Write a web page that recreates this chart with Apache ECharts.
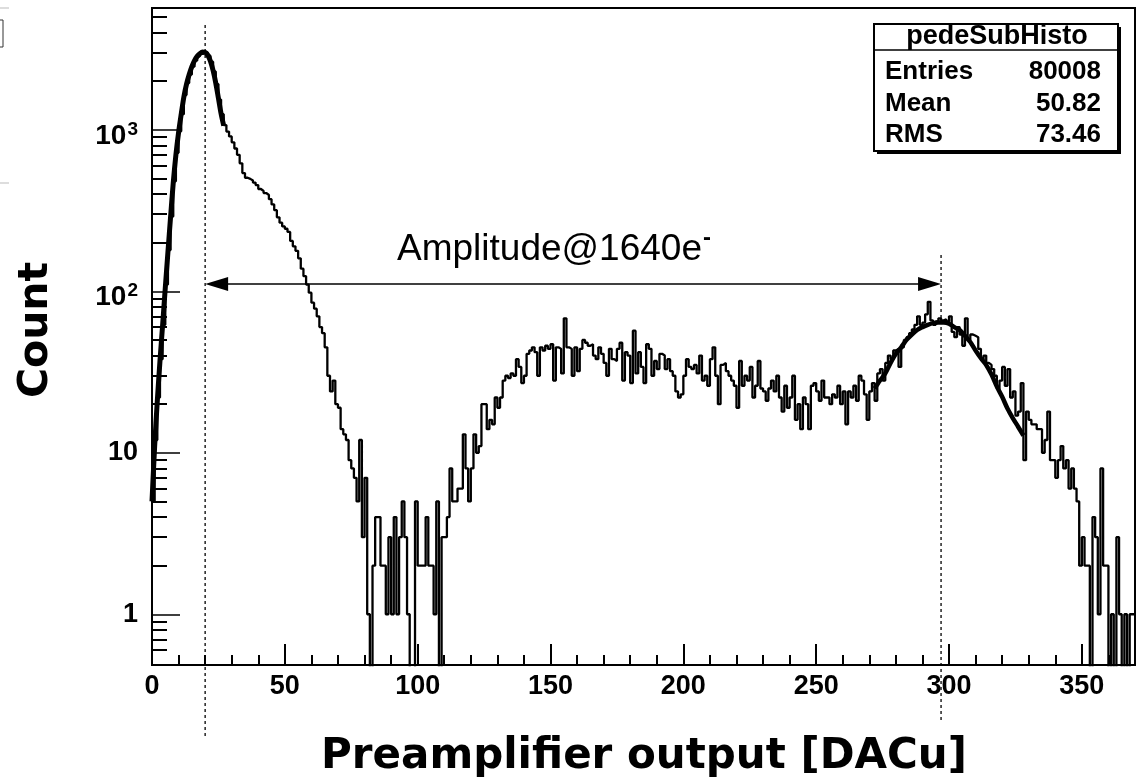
<!DOCTYPE html>
<html>
<head>
<meta charset="utf-8">
<script src="https://cdn.jsdelivr.net/npm/echarts@6/dist/echarts.min.js"></script>
<style>
html,body{margin:0;padding:0;background:#fff;}
#chart{width:1138px;height:782px;}
</style>
</head>
<body>
<div id="chart"></div>
<script>
// ---------------- data ----------------
// histogram "pedeSubHisto": one bin per DACu, bins [i, i+1), i = 0..369
const binCounts = [
  5, 12, 22, 38, 62, 110, 180, 290, 480, 720,
  980, 1250, 1640, 1950, 2200, 2460, 2680, 2850, 2950, 3030,
  3000, 2880, 2640, 2300, 1920, 1540, 1250, 1070, 975, 910,
  836, 766, 700, 620, 540, 505, 497, 485, 471, 455,
  430, 418, 406, 395, 372, 345, 318, 287, 266, 252,
  244, 233, 205, 190, 178, 160, 138, 124, 110, 98,
  85, 78, 70, 60, 55, 45, 30, 24, 28, 20,
  19, 14, 13, 12, 9, 8, 7, 5, 12, 3,
  7, 1, 0, 2, 4, 4, 2, 2, 1, 3,
  1, 4, 1, 3, 5, 3, 1, 0, 0, 5,
  2, 2, 2, 4, 2, 2, 1, 5, 0, 3,
  3, 4, 8, 5, 5, 6, 6, 13, 8, 5,
  8, 13, 10, 11, 20, 20, 14, 16, 15, 22,
  19, 22, 28, 30, 29, 31, 30, 38, 34, 27,
  30, 41, 43, 45, 42, 30, 45, 43, 46, 44,
  47, 28, 45, 44, 31, 68, 45, 44, 30, 45,
  32, 44, 50, 48, 46, 47, 40, 38, 45, 41,
  36, 30, 44, 38, 37, 44, 48, 28, 42, 40,
  27, 57, 31, 42, 34, 27, 47, 44, 30, 37,
  33, 41, 40, 33, 38, 32, 30, 24, 22, 23,
  30, 38, 34, 33, 35, 31, 40, 28, 30, 26,
  38, 45, 30, 20, 35, 36, 32, 30, 28, 26,
  19, 37, 26, 30, 28, 34, 22, 26, 37, 25,
  24, 21, 25, 28, 24, 30, 22, 18, 26, 19,
  22, 30, 16, 20, 14, 22, 20, 14, 26, 27,
  24, 21, 28, 22, 22, 20, 23, 22, 26, 20,
  24, 15, 24, 22, 26, 21, 30, 28, 23, 16,
  24, 27, 21, 31, 33, 28, 36, 40, 38, 43,
  44, 34, 45, 50, 52, 55, 58, 62, 70, 62,
  64, 72, 86, 66, 62, 65, 68, 66, 67, 65,
  70, 56, 52, 60, 54, 46, 68, 50, 54, 53,
  52, 44, 38, 40, 36, 35, 33, 30, 25, 28,
  34, 26, 33, 22, 24, 17, 18, 27, 9, 18,
  16, 15, 15, 14, 14, 10, 12, 18, 9, 9,
  7, 9, 11, 8, 9, 6, 8, 6, 5, 2,
  3, 2, 2, 0, 4, 3, 1, 8, 2, 2,
  0, 1, 0, 3, 1, 0, 1, 0, 1, 1
];
// fitted curves drawn on top (x in DACu, count)
const pedestalFitX = [0,1,2,3,4,5,6,7,8,9,10,11,12,13,14,15,16,17,18,19,20,21,22,23,24,25,26,27];
const pedestalFitY = [5,11,21,37,62,105,175,290,470,700,960,1250,1600,1920,2200,2460,2680,2850,2960,3030,3020,2900,2660,2330,1950,1570,1260,1060];
const signalFitX = [272,274,276,278,280,282,284,286,288,290,292,294,296,298,300,302,304,306,308,310,312,314,316,318,320,322,324,326,328];
const signalFitY = [25,28,31,36,41,45,50,54,57.6,60,62,63.5,64,64,63,60,57.5,53,48.5,43,38.5,35,30.5,25.7,22.2,18.8,16.4,14.5,12.8];

const xMajorTicks = [0,50,100,150,200,250,300,350];
const xMinorTicks = [10,20,30,40,60,70,80,90,110,120,130,140,160,170,180,190,210,220,230,240,260,270,280,290,310,320,330,340,360];
const yDecadeTicks = [1,10,100,1000];
const yDecadeLabels = ['1','10','{b|10}{s|2}','{b|10}{s|3}'];
const yMinorTicks = [0.6,0.7,0.8,0.9,2,3,4,5,6,7,8,9,20,30,40,50,60,70,80,90,200,300,400,500,600,700,800,900,2000,3000,4000,5000];

const statsTitle = 'pedeSubHisto';
const statsNames = ['Entries','Mean','RMS'];
const statsValues = ['80008','50.82','73.46'];

const markerLeftX = 20;     // pedestal position (DACu)
const markerRightX = 297;   // signal peak position (DACu)
const arrowCount = 111;     // height of the arrow (counts)
const annotation = 'Amplitude@1640e';

const xRange = [0, 370];
const yRange = [0.485, 5680];

// ---------------- build ----------------
const lg = v => Math.log10(v);
const FLOOR = -2; // empty bins go below the frame (log scale)
const histData = binCounts.map((c, i) => [i, c > 0 ? lg(c) : FLOOR]);
histData.push([binCounts.length, binCounts[binCounts.length-1] > 0 ? lg(binCounts[binCounts.length-1]) : FLOOR]);
const pedFit = pedestalFitX.map((x, i) => [x, lg(pedestalFitY[i])]);
const sigFit = signalFitX.map((x, i) => [x, lg(signalFitY[i])]);

const FONT = '"Liberation Sans", Arial, Helvetica, sans-serif';
const TITLEFONT = '"DejaVu Sans", Verdana, sans-serif';
const yMin = lg(yRange[0]), yMax = lg(yRange[1]);

const chart = echarts.init(document.getElementById('chart'), null, {renderer: 'canvas'});

const option = {
  animation: false,
  backgroundColor: '#ffffff',
  grid: {left: 152, top: 8, width: 983, height: 657, show: true, borderColor: '#000', borderWidth: 2, backgroundColor: 'transparent'},
  xAxis: [
    {
      type: 'value', min: xRange[0], max: xRange[1], position: 'bottom',
      axisLine: {show: true, onZero: false, lineStyle: {color: '#000', width: 2}},
      axisTick: {show: true, inside: true, length: 21, lineStyle: {color: '#000', width: 2}, customValues: xMajorTicks},
      axisLabel: {show: true, customValues: xMajorTicks, margin: 8, color: '#000', fontFamily: FONT, fontWeight: 'bold', fontSize: 27},
      splitLine: {show: false}
    },
    {
      type: 'value', min: xRange[0], max: xRange[1], position: 'bottom',
      axisLine: {show: false, onZero: false},
      axisTick: {show: true, inside: true, length: 10, lineStyle: {color: '#000', width: 2}, customValues: xMinorTicks},
      axisLabel: {show: false},
      splitLine: {show: false}
    }
  ],
  yAxis: [
    {
      type: 'value', min: yMin, max: yMax, position: 'left',
      axisLine: {show: true, onZero: false, lineStyle: {color: '#000', width: 2}},
      axisTick: {show: true, inside: true, length: 28, lineStyle: {color: '#000', width: 1.5}, customValues: yDecadeTicks.map(lg)},
      axisLabel: {
        show: true, customValues: yDecadeTicks.map(lg), margin: 14, color: '#000',
        fontFamily: FONT, fontWeight: 'bold', fontSize: 27,
        formatter: v => yDecadeLabels[Math.round(v)],
        rich: {
          b: {fontFamily: FONT, fontWeight: 'bold', fontSize: 28, lineHeight: 30, padding: [12, 0, 0, 0], color: '#000'},
          s: {fontFamily: FONT, fontWeight: 'bold', fontSize: 19, lineHeight: 16, verticalAlign: 'top', padding: [5, 0, 0, 1], color: '#000'}
        }
      },
      splitLine: {show: false}
    },
    {
      type: 'value', min: yMin, max: yMax, position: 'left',
      axisLine: {show: false, onZero: false},
      axisTick: {show: true, inside: true, length: 15, lineStyle: {color: '#000', width: 2}, customValues: yMinorTicks.map(lg)},
      axisLabel: {show: false},
      splitLine: {show: false}
    }
  ],
  series: [
    {
      name: 'pedeSubHisto', type: 'line', step: 'end', data: histData,
      xAxisIndex: 0, yAxisIndex: 0, showSymbol: false, symbol: 'none', clip: true,
      lineStyle: {color: '#000', width: 2.3}, silent: true, z: 3
    },
    {
      name: 'pedestal fit', type: 'line', data: pedFit, smooth: 0.3,
      xAxisIndex: 0, yAxisIndex: 0, showSymbol: false, symbol: 'none', clip: true,
      lineStyle: {color: '#000', width: 5}, silent: true, z: 4
    },
    {
      name: 'signal fit', type: 'line', data: sigFit, smooth: 0.3,
      xAxisIndex: 0, yAxisIndex: 0, showSymbol: false, symbol: 'none', clip: true,
      lineStyle: {color: '#000', width: 4.5}, silent: true, z: 4
    }
  ]
};
chart.setOption(option);

// ---------------- annotations (positions via the chart's own scales) ----------------
const toX = v => chart.convertToPixel({xAxisIndex: 0}, v);
const toY = v => chart.convertToPixel({yAxisIndex: 0}, lg(v));
const xL = toX(markerLeftX), xR = toX(markerRightX), yA = toY(arrowCount);
const head = 23, half = 7;

const statsRowsY = [72, 104, 135];
const graphics = [
  // dotted marker lines
  {type: 'line', shape: {x1: xL, y1: 25, x2: xL, y2: 738}, style: {stroke: '#000', lineWidth: 1.3, lineDash: [3, 3]}, z: 10},
  {type: 'line', shape: {x1: xR, y1: 255, x2: xR, y2: 720}, style: {stroke: '#000', lineWidth: 1.3, lineDash: [3, 3]}, z: 10},
  // double arrow
  {type: 'line', shape: {x1: xL + 4, y1: yA, x2: xR - 4, y2: yA}, style: {stroke: '#000', lineWidth: 1.5}, z: 10},
  {type: 'polygon', shape: {points: [[xL, yA], [xL + head, yA - half], [xL + head, yA + half]]}, style: {fill: '#000'}, z: 10},
  {type: 'polygon', shape: {points: [[xR, yA], [xR - head, yA - half], [xR - head, yA + half]]}, style: {fill: '#000'}, z: 10},
  // annotation text
  {type: 'text', x: 397, y: 250, z: 10, style: {
    text: '{a|' + annotation + '}{s|-}', align: 'left', verticalAlign: 'middle',
    rich: {
      a: {fontFamily: FONT, fontSize: 37, fill: '#000', lineHeight: 40},
      s: {fontFamily: FONT, fontSize: 24, fontWeight: 'bold', fill: '#000', lineHeight: 20, verticalAlign: 'top', padding: [-4, 0, 0, 1]}
    }
  }},
  // stats box
  {type: 'rect', shape: {x: 877, y: 27, width: 244, height: 127}, style: {fill: '#000'}, z: 20},
  {type: 'rect', shape: {x: 874, y: 24, width: 244, height: 127}, style: {fill: '#fff', stroke: '#000', lineWidth: 2}, z: 21},
  {type: 'line', shape: {x1: 874, y1: 50, x2: 1118, y2: 50}, style: {stroke: '#000', lineWidth: 1.5}, z: 22},
  {type: 'text', x: 997, y: 37, z: 22, style: {text: statsTitle, align: 'center', verticalAlign: 'middle', font: 'bold 27px ' + FONT, fill: '#000'}},
  // axis titles
  {type: 'text', x: 644, y: 757, z: 10, style: {text: 'Preamplifier output [DACu]', align: 'center', verticalAlign: 'middle', font: 'bold 42px ' + TITLEFONT, fill: '#000'}},
  {type: 'text', x: 36, y: 330, rotation: Math.PI / 2, z: 10, style: {text: 'Count', align: 'center', verticalAlign: 'middle', font: 'bold 41px ' + TITLEFONT, fill: '#000'}},
  // fragment of a neighbouring window at the left border
  {type: 'line', shape: {x1: 0, y1: 8, x2: 9, y2: 8}, style: {stroke: '#bbb', lineWidth: 1}},
  {type: 'rect', shape: {x: -6, y: 20, width: 9, height: 27}, style: {fill: '#fff', stroke: '#333', lineWidth: 1}},
  {type: 'line', shape: {x1: 0, y1: 183, x2: 9, y2: 183}, style: {stroke: '#bbb', lineWidth: 1}}
];
statsNames.forEach((n, i) => {
  graphics.push({type: 'text', x: 885, y: statsRowsY[i], z: 22, style: {text: n, align: 'left', verticalAlign: 'middle', font: 'bold 26px ' + FONT, fill: '#000'}});
  graphics.push({type: 'text', x: 1101, y: statsRowsY[i], z: 22, style: {text: statsValues[i], align: 'right', verticalAlign: 'middle', font: 'bold 26px ' + FONT, fill: '#000'}});
});
chart.setOption({graphic: graphics});
</script>
</body>
</html>
